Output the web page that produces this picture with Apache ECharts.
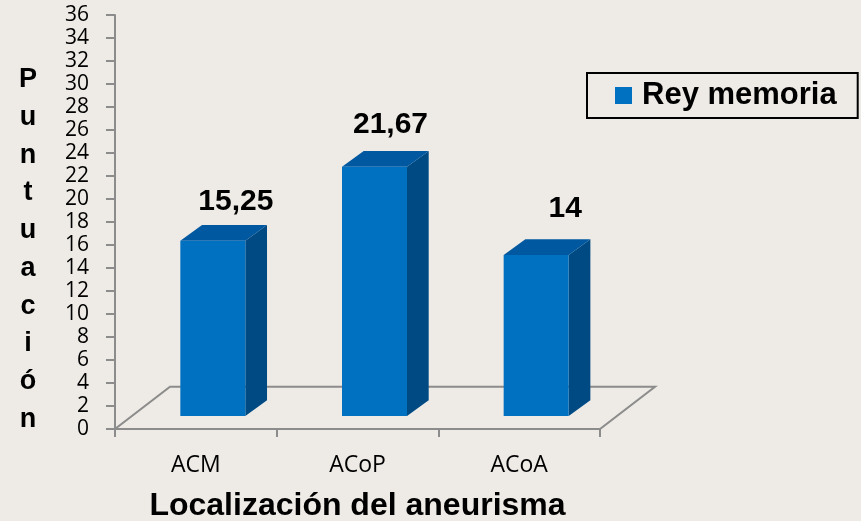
<!DOCTYPE html>
<html>
<head>
<meta charset="utf-8">
<script src="https://cdn.jsdelivr.net/npm/echarts@6/dist/echarts.min.js"></script>
<style>
  html, body { margin: 0; padding: 0; background: #EEEAE5; }
  #chart { width: 861px; height: 521px; }
</style>
</head>
<body>
<div id="chart"></div>
<script>
// Puntuación media en la prueba de memoria de Rey según localización del aneurisma
const categories = ['ACM', 'ACoP', 'ACoA'];
const seriesName = 'Rey memoria';
const reyMemoria = [15.25, 21.67, 14];
const yTicks = { min: 0, max: 36, interval: 2 };

// per-bar nudge of the value label, in pixels [dx, dy]
const labelNudge = [[23, -23], [16, -26], [29, -31]];

const FRONT = '#0070C0';
const TOP = '#0058A0';
const SIDE = '#004A84';
const GRID_LINE = '#8C8C8C';

// 3D look: depth of the floor and of each bar (px)
const FLOOR_DX = 55, FLOOR_DY = -42.3;
const BAR_SHIFT_X = 17, BAR_SHIFT_Y = -13;
const BAR_DX = 21.7, BAR_DY = -15.7;
const BAR_RATIO = 0.402;

const chart = echarts.init(document.getElementById('chart'), null, { renderer: 'canvas' });

function fmt(v) { return String(v).replace('.', ','); }

function renderBar(params, api) {
  const i = api.value(0);
  const v = api.value(1);
  const base = api.coord([i, 0]);
  const top = api.coord([i, v]);
  const band = api.size([1, 0])[0];
  const w = band * BAR_RATIO;
  const x0 = base[0] + BAR_SHIFT_X - w / 2;
  const x1 = x0 + w;
  const yb = base[1] + BAR_SHIFT_Y;
  const yt = top[1] + BAR_SHIFT_Y;
  const nudge = labelNudge[params.dataIndex];
  return {
    type: 'group',
    children: [
      { type: 'polygon', shape: { points: [[x1, yb], [x1 + BAR_DX, yb + BAR_DY], [x1 + BAR_DX, yt + BAR_DY], [x1, yt]] },
        style: { fill: SIDE } },
      { type: 'polygon', shape: { points: [[x0, yt], [x1, yt], [x1 + BAR_DX, yt + BAR_DY], [x0 + BAR_DX, yt + BAR_DY]] },
        style: { fill: TOP } },
      { type: 'rect', shape: { x: x0, y: yt, width: w, height: yb - yt },
        style: { fill: FRONT } },
      { type: 'text', x: x0 + w / 2 + nudge[0], y: yt + BAR_DY + nudge[1],
        style: { text: fmt(v), fill: '#000', font: 'bold 30px "Liberation Sans", Arial, sans-serif',
                 align: 'center', verticalAlign: 'middle' } }
    ]
  };
}

function renderFloor(params, api) {
  const cs = params.coordSys;
  const xl = cs.x, xr = cs.x + cs.width, yf = cs.y + cs.height;
  return {
    type: 'polygon',
    shape: { points: [[xl, yf], [xr, yf], [xr + FLOOR_DX, yf + FLOOR_DY], [xl + FLOOR_DX, yf + FLOOR_DY]] },
    style: { fill: 'none', stroke: GRID_LINE, lineWidth: 2 }
  };
}

chart.setOption({
  backgroundColor: '#EEEAE5',
  animation: false,
  grid: { left: 115, right: 261, top: 15, bottom: 92, containLabel: false, outerBoundsMode: 'none' },
  legend: {
    data: [{ name: seriesName, icon: 'rect' }],
    left: 587, top: 73,
    padding: [7, 21, 7, 28],
    itemWidth: 17, itemHeight: 17,
    borderColor: '#000', borderWidth: 2,
    textStyle: { fontFamily: '"Liberation Sans", Arial, sans-serif', fontWeight: 'bold',
                 fontSize: 31, color: '#000', lineHeight: 30, padding: [0, 0, 0, 5] }
  },
  xAxis: {
    type: 'category',
    data: categories,
    axisLine: { lineStyle: { color: GRID_LINE, width: 2 } },
    axisTick: { show: true, length: 8, lineStyle: { color: GRID_LINE, width: 2 } },
    axisLabel: { color: '#000', fontFamily: '"Open Sans", sans-serif', fontSize: 23, margin: 25 },
    name: 'Localización del aneurisma',
    nameLocation: 'middle',
    nameGap: 61,
    nameTextStyle: { color: '#000', fontFamily: '"Liberation Sans", Arial, sans-serif',
                     fontWeight: 'bold', fontSize: 32 }
  },
  yAxis: {
    type: 'value',
    min: yTicks.min, max: yTicks.max, interval: yTicks.interval,
    splitLine: { show: false },
    axisLine: { show: true, lineStyle: { color: GRID_LINE, width: 2 } },
    axisTick: { show: true, length: 9, lineStyle: { color: GRID_LINE, width: 2 } },
    axisLabel: { color: '#000', fontFamily: '"Open Sans", sans-serif', fontSize: 21, margin: 26 }
  },
  graphic: [{
    type: 'text',
    x: 28, y: 61,
    style: {
      text: 'P\nu\nn\nt\nu\na\nc\ni\nó\nn',
      fill: '#000',
      font: 'bold 27px "Liberation Sans", Arial, sans-serif',
      lineHeight: 37.7,
      align: 'center',
      verticalAlign: 'top'
    }
  }],
  series: [
    {
      name: 'floor',
      type: 'custom',
      renderItem: renderFloor,
      data: [[0, 0]],
      z: 1,
      silent: true,
      tooltip: { show: false }
    },
    {
      name: seriesName,
      type: 'custom',
      renderItem: renderBar,
      itemStyle: { color: FRONT },
      data: reyMemoria.map((v, i) => [i, v]),
      z: 3
    }
  ]
});
</script>
</body>
</html>
